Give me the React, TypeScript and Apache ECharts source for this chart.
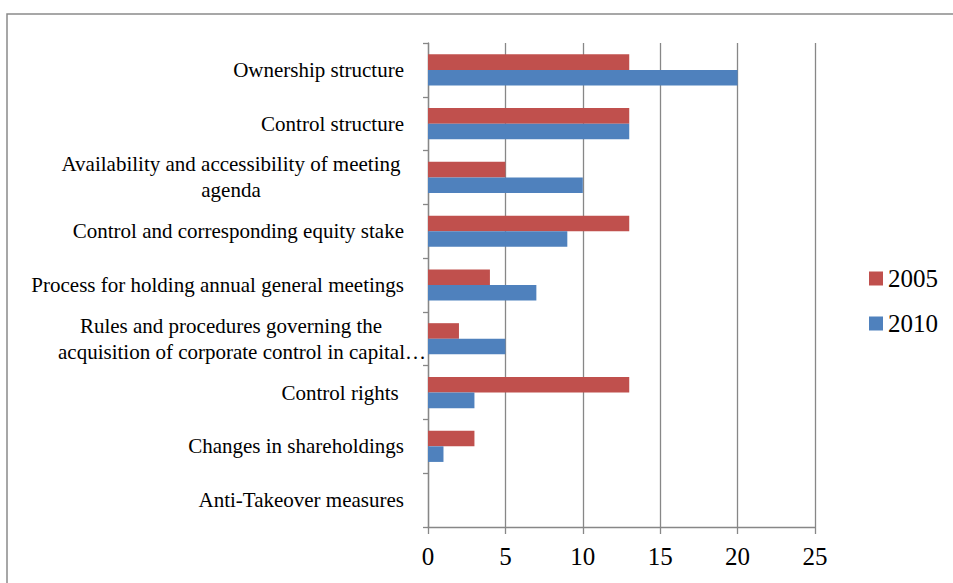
import React, { useEffect, useRef } from "react";
import * as echarts from "echarts";

const categories: string[] = [
  "Ownership structure",
  "Control structure",
  "Availability and accessibility of meeting\nagenda",
  "Control and corresponding equity stake",
  "Process for holding annual general meetings",
  "Rules and procedures governing the\nacquisition of corporate control in capital…",
  "Control rights ",
  "Changes in shareholdings",
  "Anti-Takeover measures",
];
const values2005: number[] = [13, 13, 5, 13, 4, 2, 13, 3, 0];
const values2010: number[] = [20, 13, 10, 9, 7, 5, 3, 1, 0];
const seriesNames: string[] = ["2005", "2010"];
const xTicks = { min: 0, max: 25, interval: 5 };

const SERIF = "'Liberation Serif', 'Times New Roman', serif";
const GRAY = "#878787";

export default function App() {
  const ref = useRef<HTMLDivElement>(null);
  useEffect(() => {
    if (!ref.current) return;
    const chart = echarts.init(ref.current, undefined, { renderer: "svg" });
    chart.setOption({
      animation: false,
      backgroundColor: "#ffffff",
      graphic: [
        {
          type: "rect",
          shape: { x: 7, y: 14, width: 1000, height: 700 },
          style: { fill: "none", stroke: "#8a8a8a", lineWidth: 1.5 },
          silent: true,
          z: -1,
        },
      ],
      legend: {
        orient: "vertical",
        left: 869,
        top: 266,
        padding: 0,
        itemWidth: 14,
        itemHeight: 14,
        itemGap: 20,
        icon: "rect",
        textStyle: { fontFamily: SERIF, fontSize: 25, color: "#000" },
        data: seriesNames,
      },
      grid: { left: 428, right: 138, top: 43, bottom: 56, containLabel: false },
      xAxis: {
        type: "value",
        min: xTicks.min,
        max: xTicks.max,
        interval: xTicks.interval,
        axisLine: { show: true, lineStyle: { color: GRAY, width: 1.3 } },
        axisTick: { show: true, length: 7, lineStyle: { color: GRAY, width: 1.3 } },
        splitLine: { show: true, lineStyle: { color: GRAY, width: 1.3 } },
        axisLabel: { fontFamily: SERIF, fontSize: 25, color: "#000", margin: 17 },
      },
      yAxis: {
        type: "category",
        inverse: true,
        data: categories,
        axisLine: { show: true, lineStyle: { color: GRAY, width: 1.3 } },
        axisTick: { show: true, length: 5, lineStyle: { color: GRAY, width: 1.3 } },
        splitLine: { show: false },
        axisLabel: {
          margin: 24,
          fontFamily: SERIF,
          fontSize: 21,
          color: "#000",
          formatter: (v: string) => {
            if (v.indexOf("\n") < 0) return v;
            return v
              .split("\n")
              .map((l) => (l.indexOf("…") >= 0 ? "{l|" + l + "}" : "{c|" + l + "}"))
              .join("\n");
          },
          rich: {
            c: {
              width: 346,
              align: "center",
              fontFamily: SERIF,
              fontSize: 21,
              lineHeight: 26,
              color: "#000",
            },
            l: {
              width: 346,
              align: "left",
              fontFamily: SERIF,
              fontSize: 21,
              lineHeight: 26,
              color: "#000",
            },
          },
        },
      },
      series: [
        {
          name: seriesNames[0],
          type: "bar",
          data: values2005,
          itemStyle: { color: "#C0504D" },
          barGap: "0%",
          barCategoryGap: "42%",
        },
        {
          name: seriesNames[1],
          type: "bar",
          data: values2010,
          itemStyle: { color: "#4F81BD" },
          barGap: "0%",
          barCategoryGap: "42%",
        },
      ],
    });
    return () => chart.dispose();
  }, []);
  return (
    <div
      ref={ref}
      style={{ position: "absolute", left: 0, top: 0, width: 953, height: 583 }}
    />
  );
}
